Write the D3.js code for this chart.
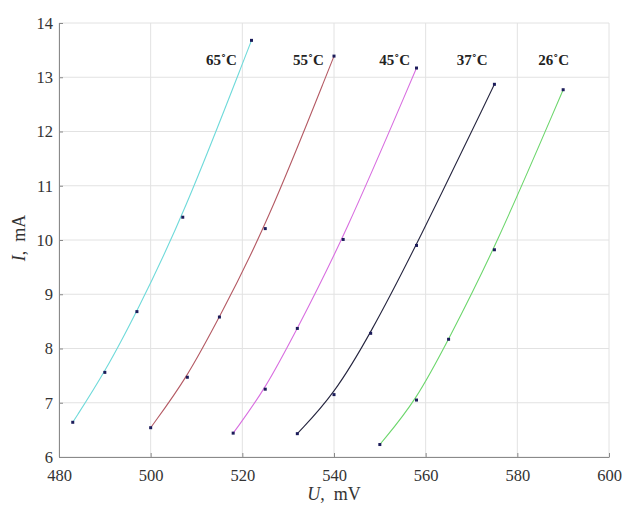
<!DOCTYPE html>
<html>
<head>
<meta charset="utf-8">
<script src="https://cdn.jsdelivr.net/npm/d3@7"></script>
<style>
  body { margin: 0; background: #fff; }
  text { font-family: "Liberation Serif", "DejaVu Serif", serif; }
</style>
</head>
<body>
<svg id="chart" width="623" height="505"></svg>
<script>
// series: U in mV, I in mA
const temps = ["65˚C", "55˚C", "45˚C", "37˚C", "26˚C"];
const colors = ["#6fdada", "#b45a64", "#d86ee0", "#25253f", "#6cd66c"];
const u65 = [483, 490, 497, 507, 522];
const i65 = [6.64, 7.56, 8.68, 10.42, 13.68];
const u55 = [500, 508, 515, 525, 540];
const i55 = [6.54, 7.47, 8.58, 10.21, 13.39];
const u45 = [518, 525, 532, 542, 558];
const i45 = [6.44, 7.25, 8.37, 10.01, 13.17];
const u37 = [532, 540, 548, 558, 575];
const i37 = [6.43, 7.15, 8.28, 9.9, 12.87];
const u26 = [550, 558, 565, 575, 590];
const i26 = [6.23, 7.05, 8.17, 9.82, 12.77];
const labelU = [518.8, 537.8, 556.6, 573.5, 591.3];
const labelI = 13.22;
const xTicks = [480, 500, 520, 540, 560, 580, 600];
const yTicks = [6, 7, 8, 9, 10, 11, 12, 13, 14];

const uSets = [u65, u55, u45, u37, u26];
const iSets = [i65, i55, i45, i37, i26];

const svg = d3.select("#chart");
const margin = { top: 23, right: 14, bottom: 48, left: 59 };
const width = 623 - margin.left - margin.right;
const height = 505 - margin.top - margin.bottom;

const g = svg.append("g").attr("transform", `translate(${margin.left},${margin.top})`);

const x = d3.scaleLinear().domain([480, 600]).range([0, width]);
const y = d3.scaleLinear().domain([6, 14]).range([height, 0]);

// grid
g.selectAll(".vgrid").data(xTicks).enter().append("line")
  .attr("x1", d => x(d)).attr("x2", d => x(d))
  .attr("y1", 0).attr("y2", height)
  .attr("stroke", "#e2e2e2").attr("stroke-width", 1);
g.selectAll(".hgrid").data(yTicks).enter().append("line")
  .attr("x1", 0).attr("x2", width)
  .attr("y1", d => y(d)).attr("y2", d => y(d))
  .attr("stroke", "#e2e2e2").attr("stroke-width", 1);

// axes
const xAxis = g.append("g").attr("transform", `translate(0,${height})`)
  .call(d3.axisBottom(x).tickValues(xTicks).tickSizeInner(-4).tickSizeOuter(0).tickPadding(12));
const yAxis = g.append("g")
  .call(d3.axisLeft(y).tickValues(yTicks).tickSizeInner(-4).tickSizeOuter(0).tickPadding(6));
[xAxis, yAxis].forEach(a => {
  a.select(".domain").attr("stroke", "#8a8a8a");
  a.selectAll(".tick line").attr("stroke", "#8a8a8a");
  a.selectAll("text").attr("font-size", 16.5).attr("fill", "#333")
    .style("font-family", "'Liberation Serif', serif");
});

// curves and points
const line = d3.line().curve(d3.curveBasis)
  .x(d => x(d[0])).y(d => y(d[1]));

temps.forEach((t, k) => {
  const pts = uSets[k].map((u, j) => [u, iSets[k][j]]);
  g.append("path").datum(pts)
    .attr("fill", "none").attr("stroke", colors[k]).attr("stroke-width", 1.1)
    .attr("d", line);
  g.selectAll(null).data(pts).enter().append("rect")
    .attr("x", d => x(d[0]) - 1.5).attr("y", d => y(d[1]) - 1.5)
    .attr("width", 3).attr("height", 3).attr("fill", "#1c1c5a");
  g.append("text")
    .attr("x", x(labelU[k])).attr("y", y(labelI))
    .attr("text-anchor", "end").attr("font-size", 15).attr("font-weight", "bold")
    .attr("fill", "#222").text(t);
});

// axis titles
const ylab = svg.append("text")
  .attr("transform", "translate(25,238) rotate(-90)")
  .attr("text-anchor", "middle").attr("font-size", 18).attr("fill", "#333");
ylab.append("tspan").attr("font-style", "italic").text("I");
ylab.append("tspan").text(",\u2002mA");

const xlab = svg.append("text")
  .attr("x", 334).attr("y", 500)
  .attr("text-anchor", "middle").attr("font-size", 18).attr("fill", "#333");
xlab.append("tspan").attr("font-style", "italic").text("U");
xlab.append("tspan").text(",\u2002mV");
</script>
</body>
</html>
